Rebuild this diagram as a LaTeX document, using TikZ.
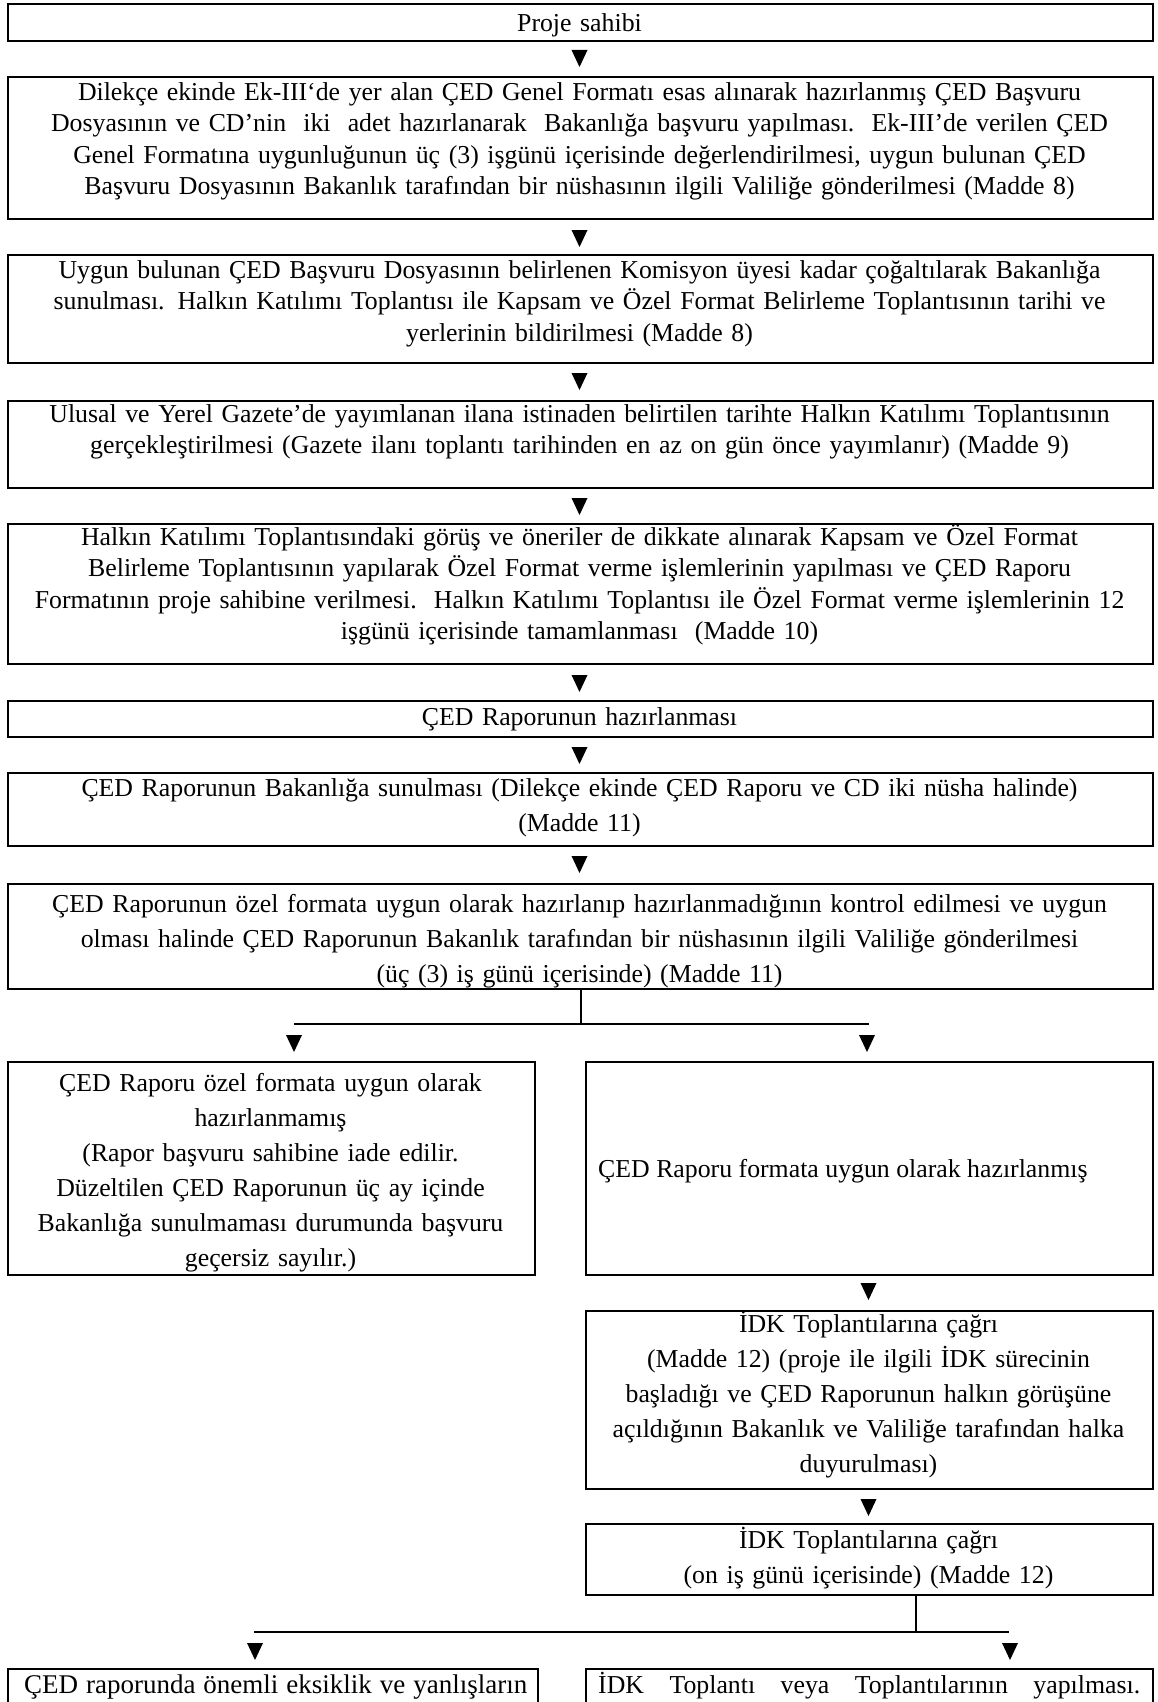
\documentclass[tikz,border=0pt]{standalone}
\usepackage{fontspec}
\setmainfont{Liberation Serif}
\newcommand\fsA{\fontsize{25.8}{31.5}\selectfont}
\newcommand\fsB{\fontsize{25.8}{35}\selectfont}
\newcommand\fsC{\fontsize{27}{35}\selectfont}
\begin{document}
\begin{tikzpicture}[x=1pt,y=-1pt,
  box/.style={draw, line width=1.8pt, inner sep=0, anchor=north west},
  txt/.style={inner sep=0, anchor=base, align=center, font=\fsA, text width=1140pt},
  stxt/.style={inner sep=0, anchor=base, align=center, font=\fsB, text width=560pt},
  conn/.style={line width=1.6pt},
  downtri/.pic={\fill (-8,0) -- (8,0) -- (0,17) -- cycle;}]
\useasboundingbox (0,0) rectangle (1158,1702);
\clip (0,0) rectangle (1158,1702);
% main column boxes
\node[box, minimum width=1145pt, minimum height=37pt]  (b1) at (7,3) {};
\node[box, minimum width=1145pt, minimum height=142pt] (b2) at (7,76) {};
\node[box, minimum width=1145pt, minimum height=108pt] (b3) at (7,254) {};
\node[box, minimum width=1145pt, minimum height=87pt]  (b4) at (7,400) {};
\node[box, minimum width=1145pt, minimum height=140pt] (b5) at (7,523) {};
\node[box, minimum width=1145pt, minimum height=36pt]  (b6) at (7,700) {};
\node[box, minimum width=1145pt, minimum height=73pt]  (b7) at (7,772) {};
\node[box, minimum width=1145pt, minimum height=105pt] (b8) at (7,883) {};
% branch boxes
\node[box, minimum width=527pt, minimum height=213pt] (bl) at (7,1061) {};
\node[box, minimum width=567pt, minimum height=213pt] (br) at (585,1061) {};
\node[box, minimum width=567pt, minimum height=178pt] (i1) at (585,1310) {};
\node[box, minimum width=567pt, minimum height=71pt]  (i2) at (585,1523) {};
\node[box, minimum width=530pt, minimum height=100pt] (cl) at (7,1668) {};
\node[box, minimum width=567pt, minimum height=100pt] (cr) at (585,1668) {};
% texts
\node[txt] (t1) at (579.5,32) {Proje sahibi};
\node[txt] (t2) at (579.5,100) {Dilekçe ekinde Ek-III‘de yer alan ÇED Genel Formatı esas alınarak hazırlanmış ÇED Başvuru\\
Dosyasının ve CD’nin\ \ iki\ \ adet hazırlanarak\ \ Bakanlığa başvuru yapılması.\ \ Ek-III’de verilen ÇED\\
Genel Formatına uygunluğunun üç (3) işgünü içerisinde değerlendirilmesi, uygun bulunan ÇED\\
Başvuru Dosyasının Bakanlık tarafından bir nüshasının ilgili Valiliğe gönderilmesi (Madde 8)};
\node[txt] (t3) at (579.5,278) {Uygun bulunan ÇED Başvuru Dosyasının belirlenen Komisyon üyesi kadar çoğaltılarak Bakanlığa\\
sunulması. Halkın Katılımı Toplantısı ile Kapsam ve Özel Format Belirleme Toplantısının tarihi ve\\
yerlerinin bildirilmesi (Madde 8)};
\node[txt] (t4) at (579.5,422) {Ulusal ve Yerel Gazete’de yayımlanan ilana istinaden belirtilen tarihte Halkın Katılımı Toplantısının\\
gerçekleştirilmesi (Gazete ilanı toplantı tarihinden en az on gün önce yayımlanır) (Madde 9)};
\node[txt] (t5) at (579.5,545) {Halkın Katılımı Toplantısındaki görüş ve öneriler de dikkate alınarak Kapsam ve Özel Format\\
Belirleme Toplantısının yapılarak Özel Format verme işlemlerinin yapılması ve ÇED Raporu\\
Formatının proje sahibine verilmesi.\ \ Halkın Katılımı Toplantısı ile Özel Format verme işlemlerinin 12\\
işgünü içerisinde tamamlanması\ \ (Madde 10)};
\node[txt] (t6) at (579.5,725) {ÇED Raporunun hazırlanması};
\node[txt, font=\fsB] (t7) at (579.5,796) {ÇED Raporunun Bakanlığa sunulması (Dilekçe ekinde ÇED Raporu ve CD iki nüsha halinde)\\
(Madde 11)};
\node[txt, font=\fsB] (t8) at (579.5,912) {ÇED Raporunun özel formata uygun olarak hazırlanıp hazırlanmadığının kontrol edilmesi ve uygun\\
olması halinde ÇED Raporunun Bakanlık tarafından bir nüshasının ilgili Valiliğe gönderilmesi\\
(üç (3) iş günü içerisinde) (Madde 11)};
\node[stxt] (tl) at (270.5,1091) {ÇED Raporu özel formata uygun olarak\\
hazırlanmamış\\
(Rapor başvuru sahibine iade edilir.\\
Düzeltilen ÇED Raporunun üç ay içinde\\
Bakanlığa sunulmaması durumunda başvuru\\
geçersiz sayılır.)};
\node[inner sep=0, anchor=base west, font=\fsB] (tr) at (598,1177) {ÇED Raporu formata uygun olarak hazırlanmış};
\node[stxt] (ti1) at (868.5,1332) {İDK Toplantılarına çağrı\\
(Madde 12) (proje ile ilgili İDK sürecinin\\
başladığı ve ÇED Raporunun halkın görüşüne\\
açıldığının Bakanlık ve Valiliğe tarafından halka\\
duyurulması)};
\node[stxt] (ti2) at (868.5,1548) {İDK Toplantılarına çağrı\\
(on iş günü içerisinde) (Madde 12)};
\node[inner sep=0, anchor=base west, font=\fsC] (tcl) at (24,1693) {\makebox[503pt][s]{ÇED raporunda önemli eksiklik ve yanlışların}};
\node[inner sep=0, anchor=base west, font=\fsB] (tcr) at (598,1693) {\makebox[542pt][s]{İDK Toplantı veya Toplantılarının yapılması.}};
% main arrows
\pic at (579.5,50)  {downtri};
\pic at (579.5,230) {downtri};
\pic at (579.5,373) {downtri};
\pic at (579.5,498) {downtri};
\pic at (579.5,675) {downtri};
\pic at (579.5,747) {downtri};
\pic at (579.5,856) {downtri};
% first branch
\coordinate (j1) at (581,1024);
\coordinate (j1l) at (294,1024);
\coordinate (j1r) at (869,1024);
\draw[conn] (j1 |- b8.south) -- (j1);
\draw[conn] (j1l) -- (j1r);
\pic at (294,1035) {downtri};
\pic at (867,1035) {downtri};
% right column arrows
\pic at (868.5,1283) {downtri};
\pic at (868.5,1499) {downtri};
% second branch
\coordinate (j2) at (916,1632);
\coordinate (j2l) at (254,1632);
\coordinate (j2r) at (1009,1632);
\draw[conn] (j2 |- i2.south) -- (j2);
\draw[conn] (j2l) -- (j2r);
\pic at (255,1643) {downtri};
\pic at (1010,1643) {downtri};
\end{tikzpicture}
\end{document}
